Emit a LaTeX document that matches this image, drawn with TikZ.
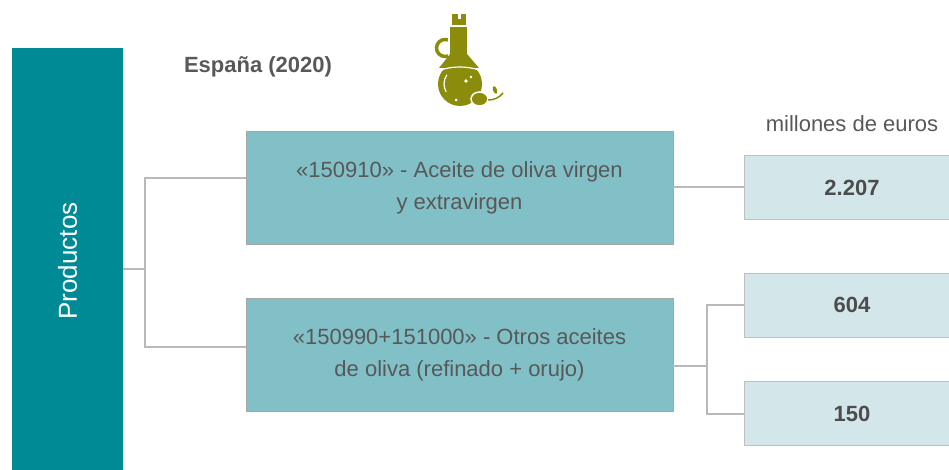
\documentclass[tikz,border=0pt]{standalone}
\usepackage{fontspec}
\setmainfont{Liberation Sans}
\usepackage{tikz}
\usetikzlibrary{positioning}

\definecolor{barteal}{RGB}{0,138,150}
\definecolor{boxteal}{RGB}{130,192,200}
\definecolor{paleteal}{RGB}{211,231,234}
\definecolor{linegray}{RGB}{185,185,185}
\definecolor{textgray}{RGB}{88,88,88}
\definecolor{oilgreen}{RGB}{140,140,12}

\begin{document}
\begin{tikzpicture}[x=1pt,y=-1pt,font=\fontsize{22}{32}\selectfont]
\tikzstyle{category}=[rectangle,fill=barteal,text=white,rotate=90,
inner sep=0pt,minimum width=426pt,minimum height=111pt,
font=\fontsize{26}{30}\selectfont]
\tikzstyle{product}=[rectangle,draw=black!35,fill=boxteal,text=textgray,
minimum width=427pt,minimum height=113pt,align=center]
\tikzstyle{amount}=[rectangle,draw=black!25,fill=paleteal,text=black!70,
minimum width=216pt,minimum height=64pt,font=\fontsize{22}{26}\selectfont\bfseries]
\tikzstyle{link}=[draw=linegray,line width=2pt]
\useasboundingbox (0,0) rectangle (949,470);
\node[category] (productos) at (67.5,261) {Productos};
\node[anchor=base,text=textgray,font=\fontsize{22}{26}\selectfont\bfseries] (pais) at (258,73) {España (2020)};
\node[product] (virgen) at (459.5,187.5) {«150910» - Aceite de oliva virgen\\y extravirgen};
\node[product] (otros) at (459.5,355) {«150990+151000» - Otros aceites\\de oliva (refinado + orujo)};
\node[amount] (v2207) at (852,187.5) {2.207};
\node[amount] (v604) at (852,305) {604};
\node[amount] (v150) at (852,413.5) {150};
\node[text=textgray] (unidad) [above=20pt of v2207] {millones de euros};
% connectors
\coordinate (fork a) at (145,269);
\coordinate (fork b) at (707,366);
\draw[link] ([yshift=-8pt]productos.south) -- (fork a);
\draw[link] ([yshift=9.5pt]virgen.west) -| (fork a) |- ([yshift=8pt]otros.west);
\draw[link] (virgen.east) -- (v2207.west);
\draw[link] ([yshift=-11pt]otros.east) -- (fork b);
\draw[link] (v604.west) -| (fork b) |- (v150.west);
% oil bottle
\fill[oilgreen] (452,14) rectangle (466,25);
\fill[white] (457.5,13) rectangle (460.5,19);
\fill[oilgreen] (450,27) rectangle (467,56);
\fill[oilgreen] (450,54) -- (467,54) -- (479,68) -- (439,68) -- cycle;
\fill[oilgreen] (460,84) circle (22);
\draw[oilgreen,line width=3.5pt] (445,48) ++(70:8.5) arc (70:290:8.5);
\draw[white,line width=1.2pt] (441,70) .. controls (452,66) and (467,66) .. (479,70);
\draw[white,line width=1.2pt] (460,84) ++(150:16) arc (150:215:16);
\fill[white] (466,81) circle (1.8) (471,77) circle (1.3) (456,100) circle (1.5);
\filldraw[fill=oilgreen,draw=white,line width=1.5pt] (479.5,99) ellipse (8.5 and 7);
\draw[oilgreen,line width=1.5pt] (488,100) .. controls (494,100) and (499,98) .. (503,93);
\fill[oilgreen,rotate around={-70:(495,90)}] (495,90) ellipse (4 and 2);
\end{tikzpicture}
\end{document}
